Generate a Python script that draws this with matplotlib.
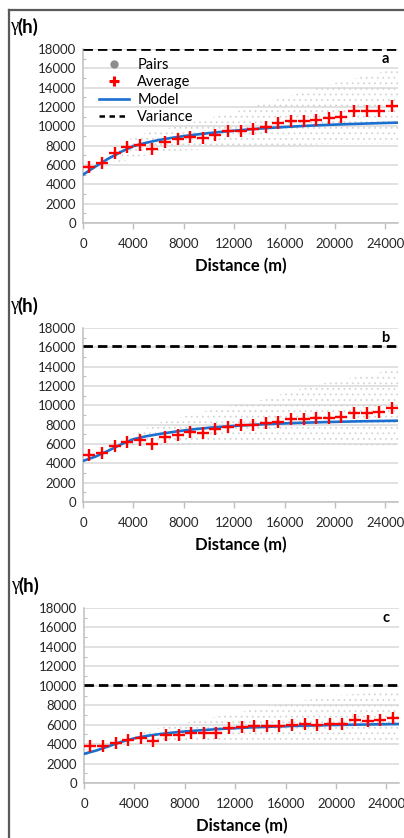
import matplotlib
matplotlib.use('Agg')
import matplotlib.pyplot as plt
from matplotlib.lines import Line2D

plt.rcParams['font.family'] = ['Lato', 'DejaVu Sans']
plt.rcParams['hatch.linewidth'] = 0.6

# Lag bin centres (m)
lags = [500, 1500, 2500, 3500, 4500, 5500, 6500, 7500, 8500, 9500,
        10500, 11500, 12500, 13500, 14500, 15500, 16500, 17500, 18500,
        19500, 20500, 21500, 22500, 23500, 24500]

# Distances where the fitted model is tabulated (m)
model_h = [0, 1000, 2000, 3000, 4000, 5000, 6000, 7000, 8000, 9000, 10000,
           11000, 12000, 13000, 14000, 15000, 16000, 17000, 18000, 19000,
           20000, 21000, 22000, 23000, 24000, 25000]

# --- panel a
avg_a = [5820, 6240, 7210, 7830, 8070, 7620, 8410, 8660, 8930, 8760, 9100,
         9550, 9550, 9690, 9900, 10310, 10590, 10590, 10650, 10860, 11000,
         11550, 11550, 11620, 12130]
model_a = [5000, 5850, 6650, 7350, 7950, 8300, 8580, 8800, 8990, 9150, 9300,
           9430, 9550, 9660, 9760, 9850, 9930, 10000, 10070, 10130, 10180,
           10230, 10270, 10310, 10350, 10380]
var_a = 18000
cloud_x_a = [2500, 4000, 8000, 12000, 16000, 20000, 25000]
cloud_lo_a = [6000, 6800, 7500, 7800, 8000, 8200, 8200]
cloud_hi_a = [7000, 9000, 10200, 11500, 13000, 14500, 16000]

# --- panel b
avg_b = [4850, 5090, 5780, 6230, 6400, 5990, 6750, 6920, 7260, 7090, 7500,
         7780, 7950, 7950, 8190, 8290, 8540, 8540, 8640, 8710, 8810, 9160,
         9160, 9330, 9680]
model_b = [4250, 4700, 5300, 5950, 6500, 6800, 7020, 7220, 7400, 7550, 7680,
           7780, 7870, 7950, 8020, 8080, 8130, 8180, 8220, 8260, 8290, 8320,
           8350, 8370, 8390, 8410]
var_b = 16100
cloud_x_b = [3500, 6000, 10000, 14000, 18000, 22000, 25000]
cloud_lo_b = [5500, 5800, 6000, 6000, 6000, 5800, 5800]
cloud_hi_b = [6800, 8200, 9500, 10500, 12000, 13000, 13800]

# --- panel c
avg_c = [3840, 3820, 4150, 4420, 4600, 4350, 4940, 4940, 5180, 5110, 5180,
         5630, 5730, 5860, 5860, 5860, 5970, 6070, 5970, 6040, 6040, 6480,
         6410, 6480, 6650]
model_c = [3000, 3350, 3800, 4250, 4600, 4850, 5030, 5180, 5300, 5400, 5490,
           5570, 5640, 5700, 5750, 5800, 5840, 5880, 5910, 5940, 5970, 5990,
           6010, 6030, 6050, 6070]
var_c = 10050
cloud_x_c = [4500, 8000, 12000, 16000, 20000, 25000]
cloud_lo_c = [4200, 4300, 4400, 4400, 4200, 4000]
cloud_hi_c = [5300, 6200, 7200, 8200, 9000, 9500]

x_ticks = [0, 4000, 8000, 12000, 16000, 20000, 24000]
y_ticks = [0, 2000, 4000, 6000, 8000, 10000, 12000, 14000, 16000, 18000]

W, H = 404, 838
fig = plt.figure(figsize=(W / 100, H / 100), dpi=100)

# outer frame (left and top edges only)
fig.add_artist(Line2D([9 / W, 9 / W], [0, 1 - 10 / H], transform=fig.transFigure,
                      color='#5a5a5a', lw=1.6))
fig.add_artist(Line2D([9 / W, 1], [1 - 10 / H, 1 - 10 / H], transform=fig.transFigure,
                      color='#5a5a5a', lw=1.6))

panels = [
    ('a', 83, 223, 174, avg_a, model_a, var_a, cloud_x_a, cloud_lo_a, cloud_hi_a),
    ('b', 83, 502, 174, avg_b, model_b, var_b, cloud_x_b, cloud_lo_b, cloud_hi_b),
    ('c', 84, 783, 175, avg_c, model_c, var_c, cloud_x_c, cloud_lo_c, cloud_hi_c),
]

for tag, left, bottom, height, avg, model, var, cx, clo, chi in panels:
    ax = fig.add_axes([left / W, 1 - bottom / H, 315 / W, height / H])
    ax.set_xlim(0, 25000)
    ax.set_ylim(0, 18000)

    # semivariogram cloud of pairs
    ax.fill_between(cx, clo, chi, facecolor='none', edgecolor='#d4d4d4',
                    hatch='...', linewidth=0, zorder=1)
    ax.plot(model_h, model, color='#1a6fcf', lw=1.9, zorder=3)
    ax.plot(lags, avg, ls='none', marker='+', ms=8.5, mew=1.7, color='#ff0000', zorder=4)
    ax.axhline(var, color='black', lw=2.0, dashes=(3.4, 1.8), zorder=5)

    ax.set_xticks(x_ticks)
    ax.set_yticks(y_ticks)
    ax.set_yticks([1000, 3000, 5000, 7000, 9000, 11000, 13000, 15000, 17000], minor=True)
    ax.grid(axis='y', color='#d9d9d9', lw=1.1, zorder=0)
    ax.set_axisbelow(True)
    for s in ('top', 'right'):
        ax.spines[s].set_visible(False)
    for s in ('left', 'bottom'):
        ax.spines[s].set_color('#bfbfbf')
        ax.spines[s].set_linewidth(1.1)
    ax.tick_params(axis='x', direction='out', length=4, width=1.0, color='#bfbfbf',
                   labelsize=9.5, labelcolor='#262626', pad=7)
    ax.tick_params(axis='y', which='major', length=0, labelsize=9.5,
                   labelcolor='#262626', pad=5)
    ax.tick_params(axis='y', which='minor', direction='in', length=2.5, width=0.8,
                   color='#bfbfbf')

    ax.text(0.96, 0.945, tag, transform=ax.transAxes, ha='center', va='center',
            fontsize=10.5, fontweight='bold')
    ax.text(0.5, -0.245, 'Distance (m)', transform=ax.transAxes, ha='center',
            va='center', fontsize=12, fontweight='bold')
    ax.text(-0.232, 1.128, 'γ', transform=ax.transAxes, ha='left', va='center',
            fontsize=13.5, family=['Liberation Serif', 'DejaVu Serif'])
    ax.text(-0.207, 1.128, '(h)', transform=ax.transAxes, ha='left', va='center',
            fontsize=13.5, fontweight='bold')

    if tag == 'a':
        handles = [
            Line2D([], [], ls='none', marker='o', ms=5, color='#8c8c8c'),
            Line2D([], [], ls='none', marker='+', ms=7, mew=2.2, color='#ff0000'),
            Line2D([], [], color='#1a6fcf', lw=1.9),
            Line2D([], [], color='black', lw=1.8, dashes=(2.2, 1.8)),
        ]
        ax.legend(handles, ['Pairs', 'Average', 'Model', 'Variance'],
                  loc='upper left', bbox_to_anchor=(0.052, 0.947),
                  borderaxespad=0, borderpad=0, frameon=False, fontsize=10.5,
                  handlelength=2.0, handletextpad=0.6, labelspacing=0.22)

fig.savefig('out.png', dpi=100)
